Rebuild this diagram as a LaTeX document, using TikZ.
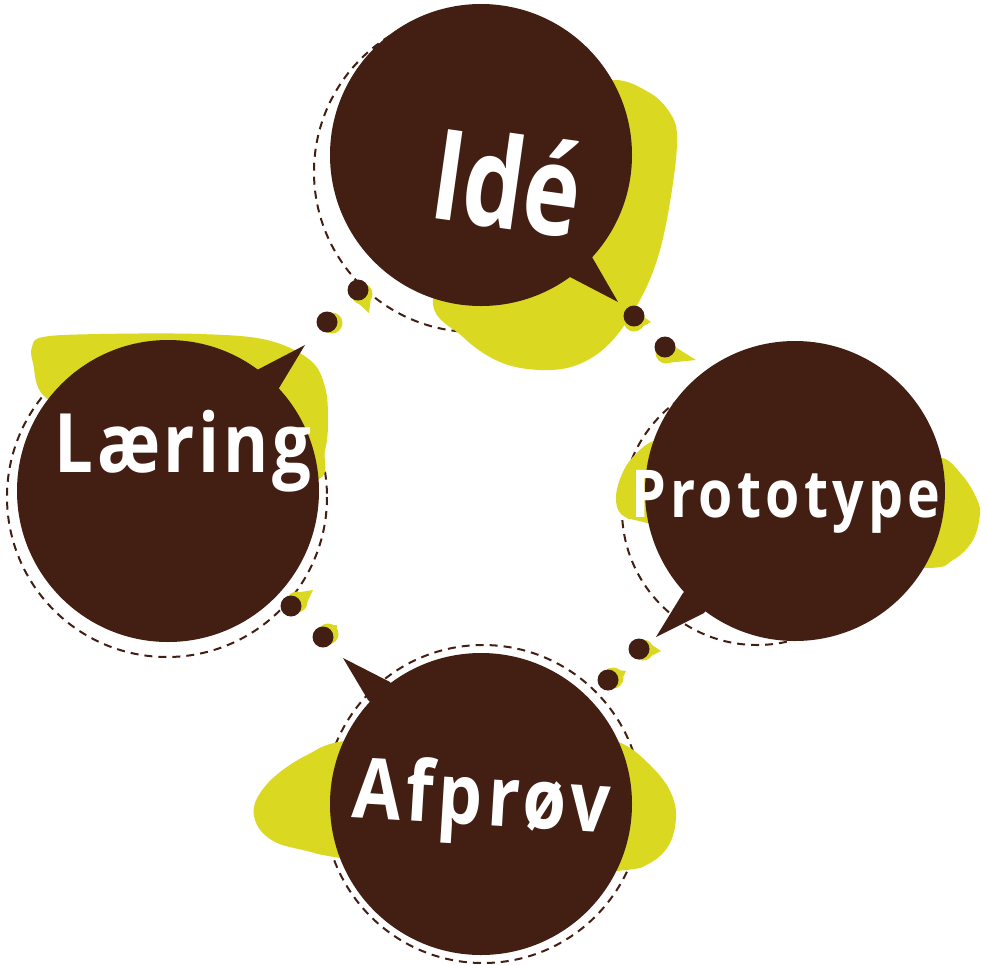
\documentclass[tikz,border=0pt]{standalone}
\usepackage{fontspec}
\newfontfamily\idefont{Open Sans}[FakeStretch=0.76]
\newfontfamily\wordfont{Open Sans}[FakeStretch=0.84]
\usetikzlibrary{calc}
\definecolor{bubble}{RGB}{67,30,18}
\definecolor{blob}{RGB}{218,216,33}
% a dot with a small yellow comet tail: #1 name, #2 dot centre, #3 tail circle centre, #4 tail tip
\newcommand{\cometdot}[4]{%
  \coordinate (#1) at #2;
  \coordinate (#1-t) at #3;
  \coordinate (#1-p) at #4;
  \fill[blob] (#1-t) circle (10.5);
  \fill[blob] ($(#1-t)!5.25pt!90:(#1-p)$) -- (#1-p) -- ($(#1-t)!5.25pt!-90:(#1-p)$) -- cycle;
}
\begin{document}
\begin{tikzpicture}[x=0.5pt,y=-0.5pt,
  ring/.style={draw=bubble,line width=1pt,dash pattern=on 4pt off 3pt},
  blobfill/.style={fill=blob},
  bubblefill/.style={fill=bubble},
  dotfill/.style={fill=bubble},
  word/.style={text=white,inner sep=0pt,anchor=base}]
\useasboundingbox (0,0) rectangle (987,965);

% bubble centres
\coordinate (ideC) at (481,155);
\coordinate (laerC) at (168,491);
\coordinate (protC) at (795,491);
\coordinate (afpC) at (481,804);

% dashed rings behind everything
\draw[ring] (474,172) circle (160);
\draw[ring] (167,497) circle (160);
\draw[ring] (757,510) circle (135);
\draw[ring] (483,804) circle (159);

% yellow blobs
\fill[blobfill] plot[smooth cycle,tension=0.6] coordinates {(612,80) (650,93) (670,113) (677,135) (673,183) (660,250) (640,300) (610,343) (577,365) (540,370) (500,362) (463,337) (433,297) (480,200) (560,100)};
\fill[blobfill] plot[smooth cycle,tension=0.6] coordinates {(45,397) (33,363) (32,347) (43,337) (100,334) (200,334) (267,340) (310,360) (325,387) (328,420) (325,450) (312,480) (200,450) (100,420)};
\fill[blobfill] plot[smooth cycle,tension=0.6] coordinates {(660,440) (632,458) (618,485) (617,507) (627,518) (647,523) (790,560) (923,568) (953,560) (973,540) (980,513) (975,495) (962,475) (942,458) (915,470) (800,470) (700,460)};
\fill[blobfill] plot[smooth cycle,tension=0.6] coordinates {(350,740) (307,755) (273,778) (255,803) (257,825) (275,842) (307,851) (340,858) (480,880) (617,871) (650,863) (670,843) (676,813) (668,787) (648,763) (625,745) (600,740) (480,730)};

% comet tails of the dots
\cometdot{d1}{(358,290)}{(362,294)}{(369,313)}
\cometdot{d2}{(327,322)}{(332,323)}{(340,330)}
\cometdot{d3}{(634,316)}{(634,321)}{(651,322)}
\cometdot{d4}{(665,347)}{(666,353)}{(696,360)}
\cometdot{d5}{(291,606)}{(297,602)}{(313,590)}
\cometdot{d6}{(323,637)}{(328,634)}{(337,625)}
\cometdot{d7}{(639,649)}{(643,650)}{(661,651)}
\cometdot{d8}{(608,680)}{(613,678)}{(626,671)}

% speech bubbles
\fill[bubblefill] (ideC) circle (151);
\fill[bubblefill] (592,257) -- (618,302) -- (570,277) -- (ideC) -- cycle;
\fill[bubblefill] (laerC) circle (151);
\fill[bubblefill] (257,370) -- (305,345) -- (279,388) -- (laerC) -- cycle;
\fill[bubblefill] (protC) circle (150);
\fill[bubblefill] (683,593) -- (656,637) -- (704,613) -- (protC) -- cycle;
\fill[bubblefill] (afpC) circle (151);
\fill[bubblefill] (390,682) -- (343,658) -- (368,700) -- (afpC) -- cycle;

% dots
\foreach \d in {d1,d2,d3,d4,d5,d6,d7,d8}
  \fill[dotfill] (\d) circle (10.5);

% words
\node[word,rotate=-8,font=\idefont\bfseries\fontsize{63}{63}\selectfont] (ide) at (501,228) {Idé};
\node[word,font=\wordfont\bfseries\fontsize{41}{41}\selectfont\addfontfeatures{LetterSpace=4.5}] (laering) at (183,472) {Læring};
\node[word,font=\wordfont\bfseries\fontsize{33}{33}\selectfont\addfontfeatures{LetterSpace=6.4}] (proto) at (786,517) {Prototype};
\node[word,rotate=-3.5,font=\wordfont\bfseries\fontsize{42}{42}\selectfont\addfontfeatures{LetterSpace=5.7}] (afprov) at (480,825) {Afprøv};
\end{tikzpicture}
\end{document}
